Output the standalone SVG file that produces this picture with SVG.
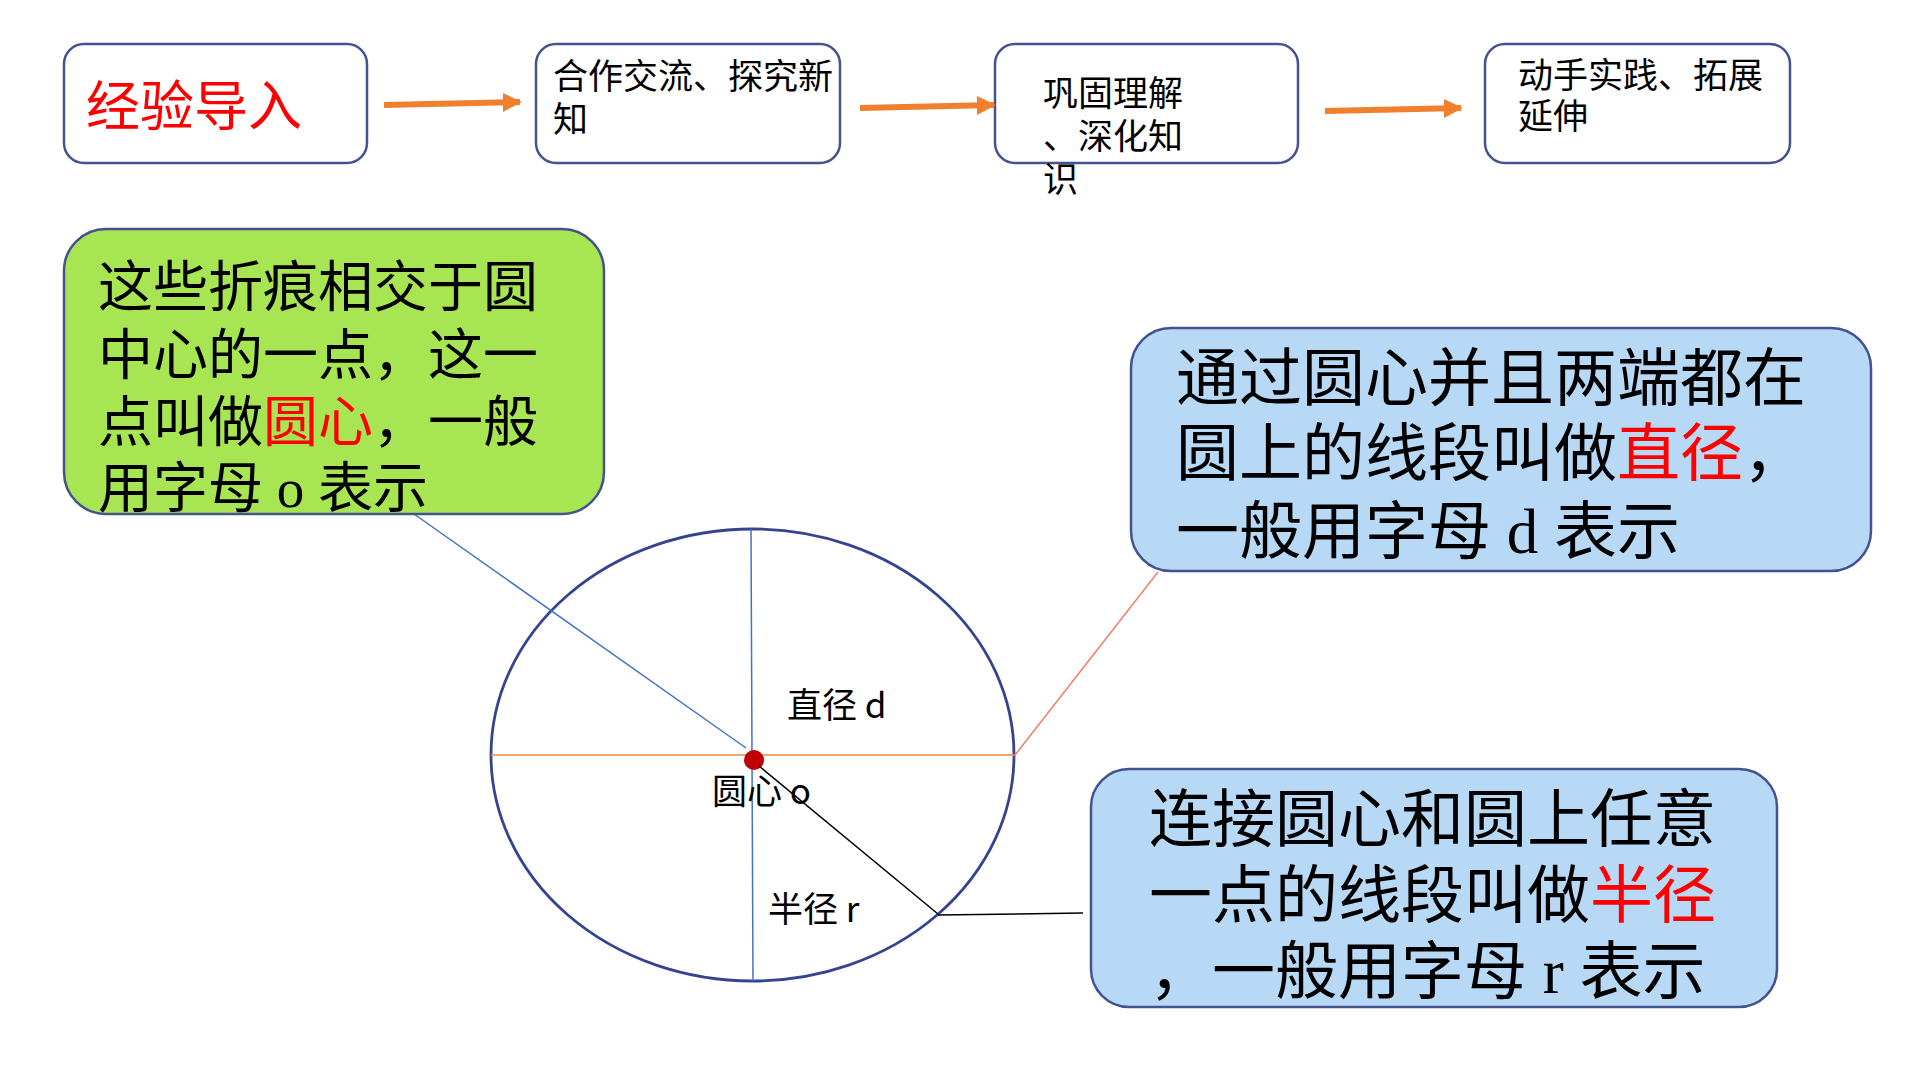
<svg xmlns="http://www.w3.org/2000/svg" width="1920" height="1080" viewBox="0 0 1920 1080">
<style>
.box{fill:#ffffff;stroke:#44538F;stroke-width:2.5}
.big{stroke:#44538F;stroke-width:2.5}
.t{font-family:"Liberation Serif","Noto Sans CJK SC",serif;fill:#000}
.s{font-family:"Noto Sans CJK SC","Noto Sans",sans-serif;fill:#000}
.red{fill:#FF0000}
.arr{stroke:#F07F2E;stroke-width:6;fill:none}
</style>
<defs>
<marker id="ah" viewBox="0 0 10 10" refX="9" refY="5" markerWidth="3.2" markerHeight="3.2" orient="auto" markerUnits="strokeWidth">
<path d="M0,0 L10,5 L0,10 Z" fill="#F07F2E"/>
</marker>
</defs>
<rect width="1920" height="1080" fill="#ffffff"/>

<g id="node-jingyan">
<rect class="box" x="64" y="44" width="303" height="119" rx="20"/>
<text class="t red" x="86" y="126" font-size="54">经验导入</text>
</g>
<g id="node-hezuo">
<rect class="box" x="536" y="44" width="304" height="119" rx="20"/>
<text class="t" x="553" y="89" font-size="35">合作交流、探究新</text>
<text class="t" x="553" y="132" font-size="35">知</text>
</g>
<g id="node-gonggu">
<rect class="box" x="995" y="44" width="303" height="119" rx="20"/>
<text class="t" x="1043" y="106" font-size="35">巩固理解</text>
<text class="t" x="1043" y="149" font-size="35">、深化知</text>
<text class="t" x="1043" y="192" font-size="35">识</text>
</g>
<g id="node-dongshou">
<rect class="box" x="1485" y="44" width="305" height="119" rx="20"/>
<text class="t" x="1518" y="88" font-size="35">动手实践、拓展</text>
<text class="t" x="1518" y="129" font-size="35">延伸</text>
</g>

<g id="circle-figure">
<ellipse cx="752.5" cy="755" rx="261.5" ry="226" fill="#ffffff" stroke="#34448F" stroke-width="2.8"/>
<line x1="751" y1="529" x2="753" y2="981" stroke="#4472C4" stroke-width="1.5"/>
<line x1="491" y1="755" x2="1015" y2="755" stroke="#F08A3C" stroke-width="1.5"/>
<circle cx="754" cy="760" r="10" fill="#C00000"/>
<text class="s" x="787" y="718" font-size="35">直径 d</text>
<text class="s" x="712" y="804" font-size="35">圆心 o</text>
<text class="s" x="768" y="922" font-size="35">半径 r</text>
</g>

<g id="connectors">
<line class="arr" x1="384" y1="105" x2="520" y2="102" marker-end="url(#ah)"/>
<line class="arr" x1="860" y1="108" x2="994" y2="105" marker-end="url(#ah)"/>
<line class="arr" x1="1325" y1="111" x2="1461" y2="108" marker-end="url(#ah)"/>
<line x1="414" y1="514" x2="746" y2="748" stroke="#4472C4" stroke-width="1.5"/>
<line x1="759" y1="766" x2="938" y2="914" stroke="#000" stroke-width="1.5"/>
<line x1="938" y1="915" x2="1083" y2="913" stroke="#000" stroke-width="1.5"/>
<line x1="1015" y1="755" x2="1158" y2="572" stroke="#F0806A" stroke-width="1.5"/>
</g>

<g id="node-yuanxin">
<rect class="big" x="64" y="229" width="540" height="285" rx="42" fill="#A8E553"/>
<text class="t" x="98" y="306" font-size="55">这些折痕相交于圆</text>
<text class="t" x="98" y="374" font-size="55">中心的一点，这一</text>
<text class="t" x="98" y="441" font-size="55">点叫做<tspan class="red">圆心</tspan>，一般</text>
<text class="t" x="98" y="507" font-size="55">用字母 o 表示</text>
</g>

<g id="node-zhijing">
<rect class="big" x="1131" y="328" width="740" height="243" rx="40" fill="#B7D9F6"/>
<text class="t" x="1176" y="400" font-size="63">通过圆心并且两端都在</text>
<text class="t" x="1176" y="475" font-size="63">圆上的线段叫做<tspan class="red">直径</tspan>，</text>
<text class="t" x="1176" y="553" font-size="63">一般用字母 d 表示</text>
</g>

<g id="node-banjing">
<rect class="big" x="1091" y="769" width="686" height="238" rx="38" fill="#B7D9F6"/>
<text class="t" x="1149" y="841" font-size="63">连接圆心和圆上任意</text>
<text class="t" x="1149" y="917" font-size="63">一点的线段叫做<tspan class="red">半径</tspan></text>
<text class="t" x="1149" y="993" font-size="63">，一般用字母 r 表示</text>
</g>
</svg>
